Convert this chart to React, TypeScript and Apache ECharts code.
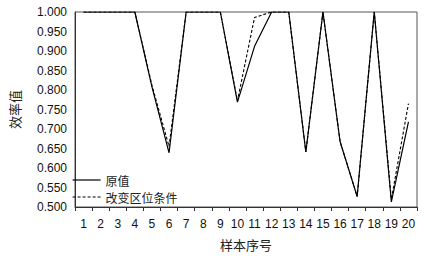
import React, { useEffect, useRef } from "react";
import * as echarts from "echarts";

const categories = ["1","2","3","4","5","6","7","8","9","10","11","12","13","14","15","16","17","18","19","20"];
const originalValues = [1.0, 1.0, 1.0, 1.0, 0.808, 0.639, 1.0, 1.0, 1.0, 0.769, 0.912, 1.0, 1.0, 0.641, 1.0, 0.668, 0.527, 1.0, 0.513, 0.718];
const changedValues = [1.0, 1.0, 1.0, 1.0, 0.812, 0.655, 1.0, 1.0, 1.0, 0.772, 0.986, 1.0, 1.0, 0.641, 1.0, 0.668, 0.527, 1.0, 0.52, 0.765];
const seriesNames = ["原值", "改变区位条件"];
const yTicks = { min: 0.5, max: 1.0, interval: 0.05 };

export default function App() {
  const ref = useRef<HTMLDivElement>(null);
  useEffect(() => {
    if (!ref.current) return;
    const chart = echarts.init(ref.current, null, { renderer: "svg" });
    const font = "'Liberation Sans', Arial, sans-serif";
    const cjk = "'Noto Sans CJK SC', serif";
    chart.setOption({
      animation: false,
      backgroundColor: "#fff",
      grid: {
        left: 64, right: 11, top: 12, bottom: 46,
        show: true, borderColor: "#555", borderWidth: 1, backgroundColor: "transparent",
      },
      legend: {
        orient: "vertical",
        left: 72,
        top: 173,
        padding: 0,
        itemWidth: 28,
        itemHeight: 12,
        itemGap: 3,
        itemStyle: { color: "transparent", borderWidth: 0, opacity: 0 },
        lineStyle: { width: 1.2 },
        textStyle: { fontSize: 12, lineHeight: 14, fontFamily: cjk, color: "#222" },
        data: seriesNames,
      },
      xAxis: {
        type: "category",
        data: categories,
        boundaryGap: true,
        name: "样本序号",
        nameLocation: "middle",
        nameGap: 31,
        nameTextStyle: { fontSize: 13, fontFamily: cjk, color: "#222" },
        axisLine: { lineStyle: { color: "#333", width: 1 } },
        axisTick: { show: true, length: 4, inside: false, alignWithLabel: false, lineStyle: { color: "#333" } },
        axisLabel: { fontSize: 12, fontFamily: font, color: "#111", margin: 11, interval: 0 },
      },
      yAxis: {
        type: "value",
        min: yTicks.min,
        max: yTicks.max,
        interval: yTicks.interval,
        name: "效率值",
        nameLocation: "middle",
        nameGap: 54,
        nameRotate: 90,
        nameTextStyle: { fontSize: 13, fontFamily: cjk, color: "#222" },
        axisLine: { show: true, lineStyle: { color: "#333", width: 1 } },
        axisTick: { show: false },
        splitLine: { show: false },
        axisLabel: { fontSize: 12, fontFamily: font, color: "#111", margin: 8, formatter: (v: number) => v.toFixed(3) },
      },
      series: [
        {
          name: seriesNames[0],
          type: "line",
          data: originalValues,
          symbol: "none",
          lineStyle: { color: "#000", width: 1.2, type: "solid" },
          itemStyle: { color: "#000" },
        },
        {
          name: seriesNames[1],
          type: "line",
          data: changedValues,
          symbol: "none",
          lineStyle: { color: "#000", width: 1.1, type: [3, 2] },
          itemStyle: { color: "#000" },
        },
      ],
    });
    return () => chart.dispose();
  }, []);
  return <div ref={ref} style={{ width: 428, height: 256, position: "fixed", left: 0, top: 0 }} />;
}
